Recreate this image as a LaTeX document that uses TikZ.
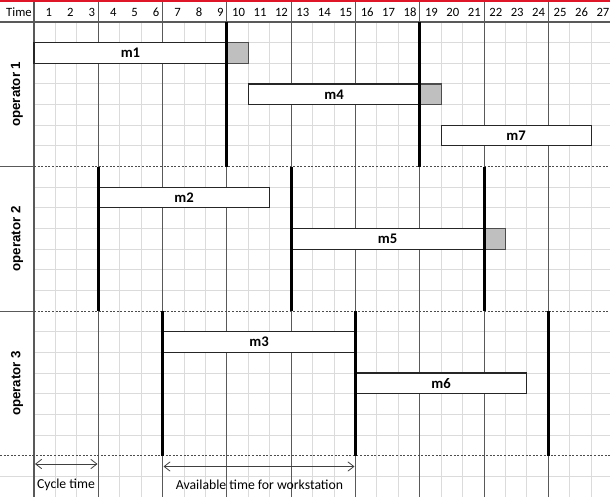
\documentclass[tikz,border=0pt]{standalone}
\usepackage{fontspec}
\setmainfont{Carlito}
\newfontfamily\arialfont{Liberation Sans}
\usetikzlibrary{arrows.meta}
\definecolor{topred}{RGB}{222,22,40}
\begin{document}
\begin{tikzpicture}[x=0.75pt,y=-0.75pt,
  lightgrid/.style={draw=black!14, line width=0.75pt},
  darkline/.style={draw=black!65, line width=0.8pt},
  thickline/.style={draw=black, line width=2.3pt},
  sectionline/.style={draw=black!70, line width=0.8pt, dash pattern=on 1.5pt off 1.2pt},
  bar/.style={draw=black!85, fill=white, line width=0.85pt},
  barlabel/.style={inner sep=0pt, font=\fontsize{11}{13}\selectfont\bfseries},
  idle/.style={draw=black!70, fill=black!25, line width=0.85pt},
  hdr/.style={anchor=east, inner sep=0pt, font=\fontsize{9.5}{11}\selectfont},
  oplabel/.style={rotate=90, inner sep=0pt, font=\arialfont\fontsize{10}{12}\selectfont\bfseries},
  dimarrow/.style={{Straight Barb[length=4.5pt,width=7pt]}-{Straight Barb[length=4.5pt,width=7pt]}, line width=0.6pt, draw=black!75},
  note/.style={inner sep=0pt, font=\fontsize{10.3}{12}\selectfont}
]
\def\cw{21.43}
\def\rh{20.65}
\clip (0,0) rectangle (610,497);
\fill[white] (0,0) rectangle (610,497);

% light grid
\foreach \n in {1,...,26}
  \draw[lightgrid] ({34+\n*\cw},22) -- ({34+\n*\cw},497);
\foreach \r in {1,...,6,8,9,...,13,15,16,...,20}
  \draw[lightgrid] (34,{22+\r*\rh}) -- (610,{22+\r*\rh});
\draw[lightgrid] (0,{22+22*\rh}) -- (610,{22+22*\rh});

% dark column-group lines
\foreach \k in {1,...,8}
  \draw[darkline] ({34+3*\k*\cw},2) -- ({34+3*\k*\cw},497);
\draw[darkline] (34,2) -- (34,497);
\draw[darkline] (0,22) -- (610,22);

% section separators
\foreach \r in {7,14}{
  \draw[darkline] (0,{22+\r*\rh}) -- (34,{22+\r*\rh});
  \draw[sectionline] (34,{22+\r*\rh}) -- (610,{22+\r*\rh});
}
\draw[sectionline] (0,{22+21*\rh}) -- (610,{22+21*\rh});

% top red line
\fill[topred] (0,0) rectangle (610,2.3);

% header
\node[hdr] (time) at (32,12.5) {Time};
\foreach \n in {1,...,27}
  \node[hdr] (h\n) at ({34+\n*\cw-3},12.5) {\n};

% operator labels
\node[oplabel] (op1) at (17,{22+3.5*\rh}) {operator 1};
\node[oplabel] (op2) at (17,{22+10.5*\rh}) {operator 2};
\node[oplabel] (op3) at (17,{22+17.5*\rh}) {operator 3};

% task bars: name, start boundary, end boundary, row, label
\newcommand\taskbar[5]{%
  \draw[bar] ({34+#2*\cw},{22+#4*\rh}) rectangle ({34+#3*\cw},{22+(#4+1)*\rh});
  \node[barlabel] (#1) at ({34+(#2+#3)/2*\cw},{22+(#4+0.5)*\rh}) {#5};}
\newcommand\idlebox[2]{%
  \draw[idle] ({34+#1*\cw},{22+#2*\rh}) rectangle ({34+(#1+1)*\cw},{22+(#2+1)*\rh});}

\taskbar{m1}{0}{9}{1}{m1}
\idlebox{9}{1}
\taskbar{m4}{10}{18}{3}{m4}
\idlebox{18}{3}
\taskbar{m7}{19}{26}{5}{m7}
\taskbar{m2}{3}{11}{8}{m2}
\taskbar{m5}{12}{21}{10}{m5}
\idlebox{21}{10}
\taskbar{m3}{6}{15}{15}{m3}
\taskbar{m6}{15}{23}{17}{m6}

% thick cycle boundaries
\foreach \c in {9,18}
  \draw[thickline] ({34+\c*\cw},22) -- ({34+\c*\cw},{22+7*\rh});
\foreach \c in {3,12,21}
  \draw[thickline] ({34+\c*\cw},{22+7*\rh}) -- ({34+\c*\cw},{22+14*\rh});
\foreach \c in {6,15,24}
  \draw[thickline] ({34+\c*\cw},{22+14*\rh}) -- ({34+\c*\cw},{22+21*\rh});

% dimension arrows
\coordinate (ctA) at (35,464);
\coordinate (ctB) at (97.5,464);
\draw[dimarrow] (ctA) -- (ctB);
\node[note] (ctlabel) at (66,485) {Cycle time};
\coordinate (atA) at (163.5,466.5);
\coordinate (atB) at (354.5,466.5);
\draw[dimarrow] (atA) -- (atB);
\node[note] (atlabel) at (259.5,485) {Available time for workstation};
\end{tikzpicture}
\end{document}
